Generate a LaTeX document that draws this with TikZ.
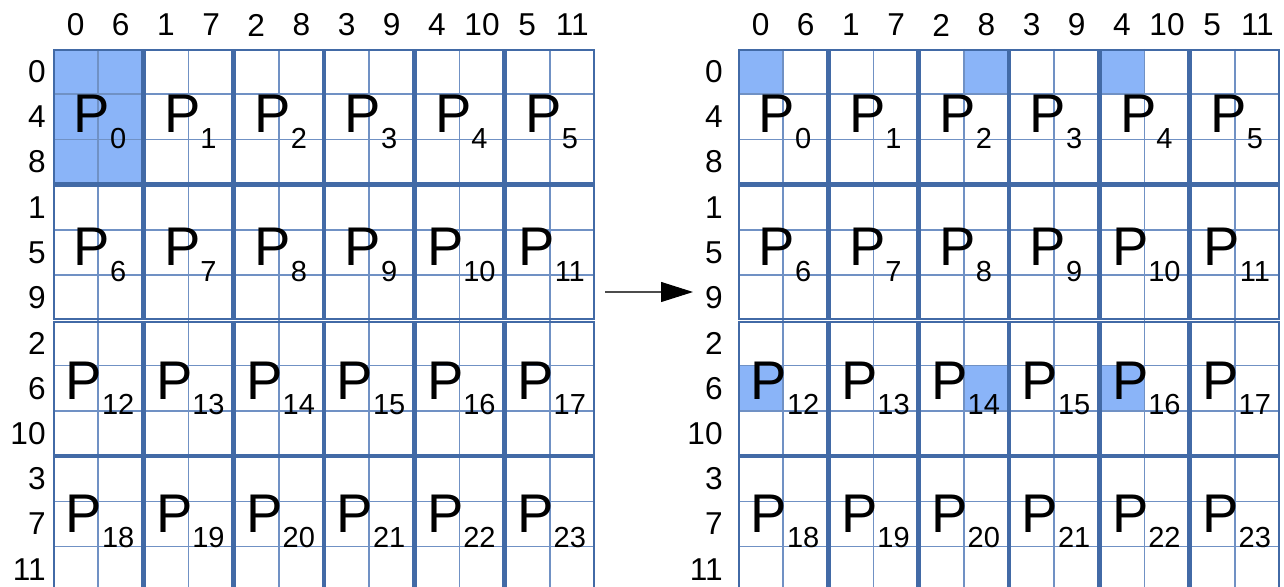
\documentclass[tikz,border=0pt]{standalone}
\usepackage{fontspec}
\setmainfont{Liberation Sans}
\usetikzlibrary{arrows.meta,calc}
\definecolor{gridblue}{RGB}{66,106,166}
\definecolor{subblue}{RGB}{112,145,196}
\definecolor{ownblue}{RGB}{138,180,248}
\tikzset{
  procbox/.style={draw=gridblue, line width=1.2pt},
  subline/.style={draw=subblue, line width=0.85pt},
  idxlabel/.style={inner sep=0pt, font=\fontsize{18}{20}\selectfont},
  plabel/.style={inner sep=0pt, anchor=base, font=\fontsize{31}{34}\selectfont},
  flowarrow/.style={-{Triangle[length=6.4mm,width=4mm,color=black]}, line width=0.6pt, black!70}
}
\newcommand{\psub}[1]{P\raisebox{-0.32cm}{\fontsize{16.5}{18}\selectfont #1}}

\begin{document}
\begin{tikzpicture}[x=0.02cm, y=-0.02cm]
  \useasboundingbox (0,0) rectangle (1284,587);
  \clip (0,0) rectangle (1284,587);

  % Owned blocks
  \fill[ownblue] (53,49) rectangle (143.33,184.7);
  \foreach \c/\s/\r/\t in {0/0/0/0, 2/1/0/0, 4/0/0/0, 0/0/2/1, 2/1/2/1, 4/0/2/1}{
    \fill[ownblue] ({738+\c*90.33+\s*45.17},{49+\r*135.7+\t*45.23}) rectangle ++(45.17,45.23);
  }

  % Both grids
  \foreach \gx/\g/\rx in {53/l/46, 738/r/723}{
    % sub-cell lines
    \foreach \c in {0,...,5}
      \draw[subline] ({\gx+\c*90.33+45.17},49) -- ({\gx+\c*90.33+45.17},592);
    \foreach \r in {0,...,3}
      \foreach \t in {1,2}
        \draw[subline] (\gx,{49+\r*135.7+\t*45.23}) -- ({\gx+542},{49+\r*135.7+\t*45.23});
    % processor blocks
    \foreach \c in {0,...,5}
      \foreach \r in {0,...,3}{
        \pgfmathtruncatemacro\p{6*\r+\c}
        \draw[procbox] ({\gx+\c*90.33+1.2},{49+\r*135.7+1.2}) rectangle ++(87.93,133.3);
        \node[plabel] (\g p\p) at ({\gx+\c*90.33+47},{133*(\r+1)}) {\psub{\p}};
      }
    % index labels
    \foreach \c in {0,...,5}
      \foreach \s in {0,1}{
        \pgfmathtruncatemacro\n{\c+6*\s}
        \node[idxlabel] (\g col\n) at ({\gx+\c*90.33+\s*45.17+22.58},25) {\n};
      }
    \foreach \r in {0,...,3}
      \foreach \t in {0,1,2}{
        \pgfmathtruncatemacro\n{\r+4*\t}
        \node[idxlabel, anchor=east] (\g row\n) at (\rx,{49+\r*135.7+\t*45.23+22.6}) {\n};
      }
  }

  % Redistribution arrow
  \coordinate (arrowtail) at (605,292);
  \coordinate (arrowtip) at (693,292);
  \draw[flowarrow] (arrowtail) -- (arrowtip);
\end{tikzpicture}
\end{document}
